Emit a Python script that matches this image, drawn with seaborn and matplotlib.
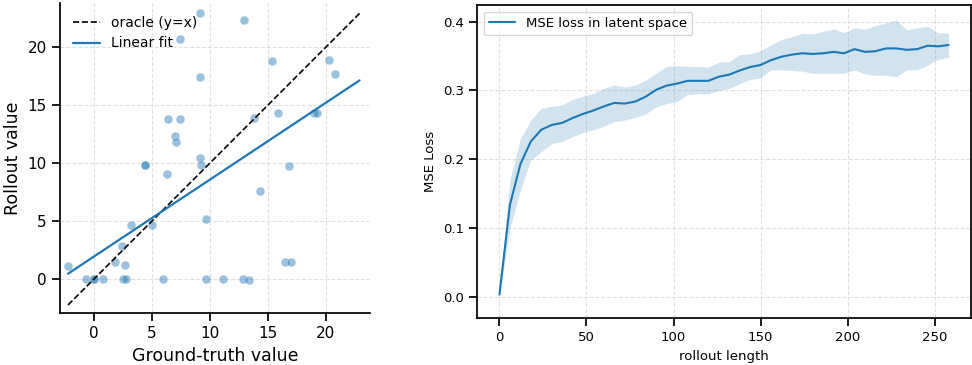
import numpy as np
import pandas as pd
import matplotlib
matplotlib.use("Agg")
import matplotlib.pyplot as plt
import seaborn as sns

# Left panel: ground-truth vs rollout values
gt_values = [9.2, 12.96, 7.41, 15.34, 20.3, 20.8, 9.2, 6.44, 7.41, 13.85,
             15.86, 18.99, 19.25, 7.0, 7.12, 9.14, 9.22, 4.45, 4.45, 16.84,
             6.29, 14.31, 9.71, 3.19, 5.06, 2.47, 1.81, 2.67, -2.21, 16.5,
             17.0, -0.63, 0.0, 0.0, 0.8, 2.53, 2.76, 5.98, 9.66, 11.12,
             12.82, 13.34]
rollout_values = [22.9, 22.3, 20.7, 18.8, 18.9, 17.7, 17.4, 13.8, 13.8, 13.9,
                  14.3, 14.36, 14.36, 12.36, 11.85, 10.47, 9.81, 9.81, 9.81, 9.73,
                  9.07, 7.6, 5.18, 4.64, 4.64, 2.83, 1.46, 1.23, 1.14, 1.46,
                  1.46, 0.0, 0.0, 0.0, 0.0, 0.0, 0.0, 0.0, 0.0, 0.0,
                  0.0, -0.05]
# linear fit
fit_slope = 0.663
fit_intercept = 1.95

# Right panel: MSE loss vs rollout length
rollout_len = list(range(0, 259, 6))
mse_mean = [0.004, 0.134, 0.193, 0.226, 0.243, 0.250, 0.253, 0.260, 0.266, 0.271,
            0.277, 0.282, 0.281, 0.284, 0.291, 0.301, 0.307, 0.310, 0.314, 0.314,
            0.314, 0.320, 0.323, 0.329, 0.334, 0.337, 0.344, 0.349, 0.352, 0.354,
            0.353, 0.354, 0.356, 0.354, 0.360, 0.356, 0.357, 0.361, 0.361, 0.359,
            0.360, 0.365, 0.364, 0.366]
mse_upper = [0.010, 0.170, 0.230, 0.257, 0.274, 0.277, 0.279, 0.287, 0.292, 0.296,
             0.303, 0.308, 0.305, 0.308, 0.315, 0.325, 0.335, 0.336, 0.335, 0.335,
             0.334, 0.341, 0.342, 0.352, 0.353, 0.358, 0.366, 0.374, 0.378, 0.383,
             0.382, 0.386, 0.389, 0.384, 0.391, 0.389, 0.394, 0.398, 0.402, 0.388,
             0.391, 0.393, 0.384, 0.383]
mse_lower = [0.000, 0.100, 0.155, 0.199, 0.211, 0.223, 0.226, 0.233, 0.239, 0.243,
             0.248, 0.255, 0.257, 0.261, 0.266, 0.276, 0.281, 0.284, 0.294, 0.295,
             0.295, 0.300, 0.303, 0.310, 0.316, 0.318, 0.330, 0.330, 0.329, 0.328,
             0.325, 0.325, 0.325, 0.325, 0.330, 0.324, 0.322, 0.322, 0.320, 0.330,
             0.330, 0.337, 0.345, 0.348]

sns.set_theme(style="ticks")
plt.rcParams['font.family'] = ['DejaVu Sans']
plt.rcParams['axes.edgecolor'] = 'black'
plt.rcParams['xtick.color'] = 'black'
plt.rcParams['ytick.color'] = 'black'
plt.rcParams['text.color'] = 'black'
plt.rcParams['axes.labelcolor'] = 'black'

fig = plt.figure(figsize=(9.72, 3.65), dpi=100)
ax1 = fig.add_axes([60 / 972, 52 / 365, 310 / 972, 310 / 365])
ax2 = fig.add_axes([477 / 972, 47 / 365, 494 / 972, 313 / 365])

grid_kw = dict(linestyle='--', color='#d9d9d9', linewidth=0.8, alpha=0.8)

# --- left: scatter with oracle and linear fit
scatter_df = pd.DataFrame({'gt': gt_values, 'rollout': rollout_values})
sns.scatterplot(data=scatter_df, x='gt', y='rollout', ax=ax1, color='tab:blue',
                alpha=0.45, s=40, edgecolor='white', linewidth=0.4, zorder=3)

lo = min(min(gt_values), min(rollout_values))
hi = max(max(gt_values), max(rollout_values))
line_x = np.array([lo, hi])
ax1.plot(line_x, line_x, '--', color='black', linewidth=1.2, label='oracle (y=x)', zorder=4)
ax1.plot(line_x, fit_slope * line_x + fit_intercept, color='tab:blue', linewidth=1.6,
         label='Linear fit', zorder=4)

ax1.set_xlim(-2.9, 23.8)
ax1.set_ylim(-2.9, 23.8)
ax1.set_xticks([0, 5, 10, 15, 20])
ax1.set_yticks([0, 5, 10, 15, 20])
ax1.grid(True, **grid_kw)
ax1.set_axisbelow(True)
ax1.tick_params(labelsize=11)
ax1.set_xlabel('Ground-truth value', fontsize=12.5)
ax1.set_ylabel('Rollout value', fontsize=12.5)
ax1.legend(loc='upper left', frameon=False, fontsize=10)
sns.despine(ax=ax1)

# --- right: MSE loss curve with band
loss_df = pd.DataFrame({'rollout length': rollout_len, 'MSE Loss': mse_mean})
sns.lineplot(data=loss_df, x='rollout length', y='MSE Loss', ax=ax2,
             color='tab:blue', linewidth=1.5, label='MSE loss in latent space')
ax2.fill_between(rollout_len, mse_lower, mse_upper, color='tab:blue',
                 alpha=0.2, linewidth=0)
ax2.set_ylim(-0.03, 0.424)
ax2.set_xticks([0, 50, 100, 150, 200, 250])
ax2.set_yticks([0.0, 0.1, 0.2, 0.3, 0.4])
ax2.grid(True, **grid_kw)
ax2.set_axisbelow(True)
ax2.tick_params(labelsize=9.5)
ax2.set_xlabel('rollout length', fontsize=9.5)
ax2.set_ylabel('MSE Loss', fontsize=9.5)
ax2.legend(loc='upper left', fontsize=9.5)

fig.savefig('out.png', dpi=100)
